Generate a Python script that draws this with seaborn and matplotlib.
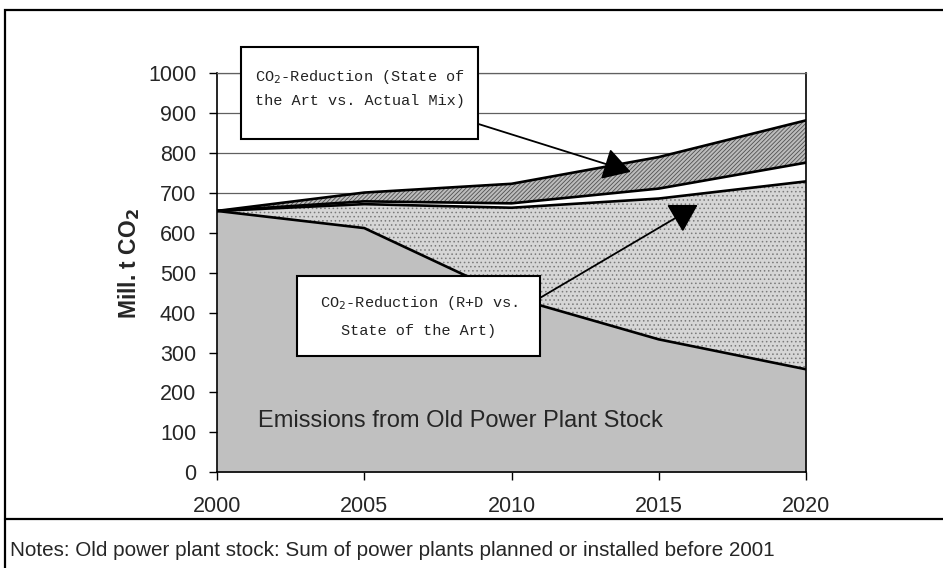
import matplotlib.pyplot as plt
import numpy as np
import pandas as pd
import seaborn as sns
from matplotlib.patches import Rectangle
from matplotlib.lines import Line2D

# values (Mill. t CO2)
years = [2000, 2005, 2010, 2015, 2020]
old_stock = [655, 612, 439, 333, 258]
with_rd = [655, 672, 663, 686, 729]
state_of_art = [655, 679, 674, 711, 776]
actual_mix = [655, 701, 723, 790, 882]
y_ticks = list(range(0, 1001, 100))

df = pd.DataFrame({'year': years, 'old': old_stock, 'rd': with_rd,
                   'soa': state_of_art, 'mix': actual_mix})
df_long = df.melt(id_vars='year', var_name='series', value_name='value')

sns.set_theme(style='white')
plt.rcParams['font.family'] = ['Liberation Sans', 'DejaVu Sans']
plt.rcParams['hatch.linewidth'] = 0.6

fig = plt.figure(figsize=(9.43, 5.68), dpi=100)
ax = fig.add_axes([217/943, 1 - 472.2/568, (806-217)/943, (472.2-73.3)/568])

# gridlines under the areas
for v in y_ticks[1:]:
    ax.axhline(v, color='#606060', lw=0.9, zorder=0)

# areas
ax.fill_between(df['year'], 0, df['old'], facecolor='#c0c0c0', lw=0, zorder=1)
ax.fill_between(df['year'], df['old'], df['rd'], facecolor='#d6d6d6',
                hatch='....', edgecolor='#7a7a7a', lw=0, zorder=1)
ax.fill_between(df['year'], df['rd'], df['soa'], facecolor='white', lw=0, zorder=1)
ax.fill_between(df['year'], df['soa'], df['mix'], facecolor='#bcbcbc',
                hatch='////////', edgecolor='#505050', lw=0, zorder=1)

# boundary lines
sns.lineplot(data=df_long, x='year', y='value', units='series', estimator=None,
             color='black', lw=1.9, ax=ax, zorder=2, legend=False)

ax.set_xlim(2000, 2020)
ax.set_ylim(0, 1000)
ax.set_xticks(years)
ax.set_yticks(y_ticks)
ax.tick_params(axis='both', which='both', direction='out', length=6, width=1,
               color='black', labelsize=15.5, left=True, bottom=True)
ax.tick_params(axis='x', pad=11)
ax.tick_params(axis='y', pad=9)
ax.set_xlabel('')
ax.set_ylabel('Mill. t CO$_\\mathbf{2}$', fontsize=16.5, fontweight='bold')
ax.yaxis.set_label_coords(-0.128, 0.524)

for side in ['left', 'bottom', 'right']:
    ax.spines[side].set_color('black')
    ax.spines[side].set_linewidth(1.2)
ax.spines['top'].set_color('#606060')
ax.spines['top'].set_linewidth(0.9)
for s in ax.spines.values():
    s.set_zorder(3)

ax.text(2001.4, 128, 'Emissions from Old Power Plant Stock', fontsize=17,
        va='center', ha='left', zorder=4)

# arrows
head = '-|>,head_length=0.85,head_width=0.5'
ax.annotate('', xy=(2014.05, 753), xytext=(2008.83, 874), annotation_clip=False,
            arrowprops=dict(arrowstyle=head, mutation_scale=20, color='black',
                            lw=1.3, shrinkA=0, shrinkB=0), zorder=5)
ax.annotate('', xy=(2016.32, 670), xytext=(2010.9, 434), annotation_clip=False,
            arrowprops=dict(arrowstyle=head, mutation_scale=20, color='black',
                            lw=1.3, shrinkA=0, shrinkB=0), zorder=5)

# text boxes
box_font = ['Liberation Mono', 'DejaVu Sans Mono']
fig.add_artist(Rectangle((241/943, 1 - 139/568), 237/943, 92/568,
                         transform=fig.transFigure, facecolor='white',
                         edgecolor='black', lw=1.5, zorder=6))
fig.text((241+478)/2/943, 1 - 88/568, 'CO$_2$-Reduction (State of\nthe Art vs. Actual Mix)',
         ha='center', va='center', fontsize=11, family=box_font,
         color='#222222', linespacing=1.65, zorder=7)
fig.add_artist(Rectangle((297/943, 1 - 356/568), 243/943, 80/568,
                         transform=fig.transFigure, facecolor='white',
                         edgecolor='black', lw=1.5, zorder=6))
fig.text((297+540)/2/943, 1 - 316/568, 'CO$_2$-Reduction (R+D vs.\nState of the Art)',
         ha='center', va='center', fontsize=11, family=box_font,
         color='#222222', linespacing=2.1, zorder=7)

# outer frame and notes row
fig.add_artist(Rectangle((5/943, -0.05), 1.1, 1 - 10/568 + 0.05,
                         transform=fig.transFigure, facecolor='none',
                         edgecolor='black', lw=1.6, zorder=8))
fig.add_artist(Line2D([5/943, 1.0], [1 - 519/568, 1 - 519/568],
                      transform=fig.transFigure, color='black', lw=1.6, zorder=8))
fig.text(10/943, 1 - 550/568,
         'Notes: Old power plant stock: Sum of power plants planned or installed before 2001',
         ha='left', va='center', fontsize=14.9)

fig.savefig('out.png', dpi=100)
